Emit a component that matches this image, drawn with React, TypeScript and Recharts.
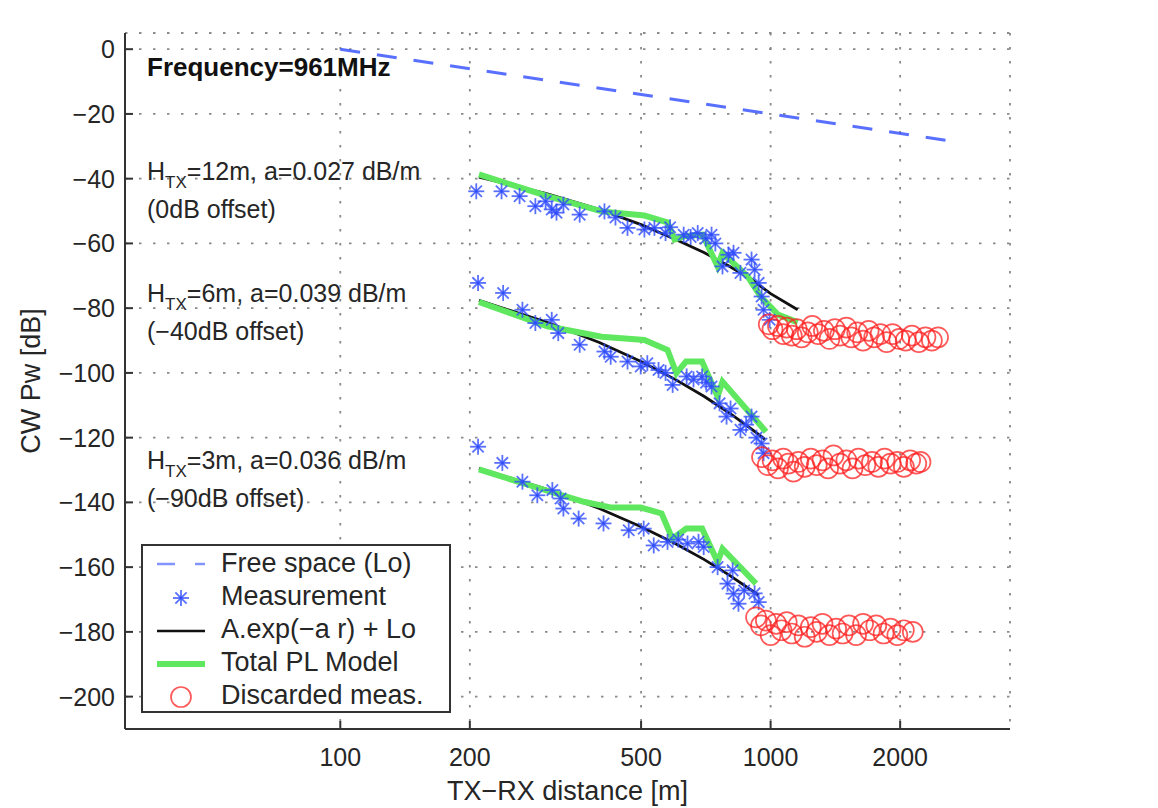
import React from "react";
import { CartesianGrid, ComposedChart, Legend, Line, Scatter, XAxis, YAxis } from "recharts";

type Pair = [number, number];

const xTicks = [100, 200, 500, 1000, 2000];
const yTicks = [-200, -180, -160, -140, -120, -100, -80, -60, -40, -20, 0];

// free space reference (Lo)
const freeSpace: Pair[] = [[100, 0], [2700, -28.6]];

// H_TX = 12 m, 0 dB offset
const meas12: Pair[] = [
  [207, -43.9], [237, -43.9], [261, -45.4], [284, -48.5], [300, -47], [310, -49.5], [318, -50.5],
  [330, -48], [360, -51.1], [411, -50.1], [436, -52], [465, -55.2], [509, -55.7], [537, -55.2],
  [570, -56.8], [584, -55], [628, -57.3], [652, -58], [677, -56.8], [707, -58.5], [729, -57.3],
  [744, -60], [773, -67.1], [798, -63.5], [820, -62.9], [851, -69.1], [903, -65], [918, -68.1],
  [938, -72.2], [953, -76.4], [963, -80.5], [995, -83.6],
];
const fit12: Pair[] = [
  [210, -39.5], [300, -44.5], [400, -49.5], [500, -54.2], [600, -58.7], [700, -62.8],
  [800, -67], [900, -71], [1000, -75.5], [1156, -80.5],
];
const model12: Pair[] = [
  [210, -38.7], [303, -45.4], [405, -50.1], [509, -51.4], [576, -53.5], [598, -58.8], [628, -57.8],
  [695, -57.3], [753, -67.1], [773, -62.9], [884, -70.2], [948, -76.4], [1040, -82], [1156, -84.4],
];
const discard12: Pair[] = [
  [990, -85], [1010, -86.5], [1040, -85.5], [1070, -88], [1090, -86], [1120, -88.5], [1150, -86.5],
  [1180, -89], [1220, -87.5], [1250, -85.5], [1290, -88], [1330, -87], [1370, -89.5], [1410, -86.5],
  [1450, -88.5], [1500, -86], [1540, -89], [1590, -87.5], [1640, -90], [1690, -87], [1740, -89],
  [1800, -88], [1860, -90.5], [1920, -88], [1990, -89.5], [2060, -90], [2130, -88.5], [2210, -90.5],
  [2290, -89], [2370, -90], [2450, -89],
];

// H_TX = 6 m, -40 dB offset
const meas6: Pair[] = [
  [209, -72.2], [239, -75.3], [265, -80.5], [284, -84.6], [310, -83.6], [321, -87.7], [360, -91.3],
  [411, -93.4], [425, -95], [465, -96.5], [499, -98], [517, -97], [549, -99.1], [570, -100],
  [592, -103.7], [638, -101.1], [662, -102], [693, -101.1], [708, -103], [729, -104.2], [761, -109.4],
  [790, -113.5], [807, -111], [851, -117.6], [877, -116], [903, -113.5], [927, -120], [953, -121.8],
  [963, -124.8],
];
const fit6: Pair[] = [
  [210, -77.6], [300, -84.2], [400, -90.6], [500, -96.5], [600, -102], [700, -107.2],
  [800, -112.3], [900, -117.2], [970, -120.5],
];
const model6: Pair[] = [
  [210, -78.1], [303, -85.6], [405, -88.8], [509, -89.8], [576, -92.9], [604, -100.1], [636, -96.5],
  [693, -96.5], [753, -107.3], [773, -102.7], [976, -118.2],
];
const discard6: Pair[] = [
  [955, -126], [985, -128.5], [1010, -127], [1040, -129.5], [1070, -126.5], [1100, -128], [1130, -130.5],
  [1160, -127.5], [1200, -129], [1240, -126.5], [1280, -128.5], [1320, -127], [1360, -129.5], [1400, -125.5],
  [1450, -128], [1500, -127], [1550, -129.5], [1600, -126.5], [1660, -128.5], [1720, -127.5], [1780, -129],
  [1840, -126.5], [1900, -128], [1970, -127.5], [2040, -129], [2110, -127], [2180, -128], [2230, -127.5],
];

// H_TX = 3 m, -90 dB offset
const meas3: Pair[] = [
  [209, -122.8], [238, -127.8], [265, -133.6], [287, -137.8], [311, -136.2], [325, -138.8], [330, -141.9],
  [358, -145], [409, -146.5], [468, -148.6], [507, -148.1], [535, -153.3], [576, -152.2], [610, -151.5],
  [641, -152.7], [680, -152.2], [699, -153.8], [753, -160], [794, -165.1], [816, -161], [820, -168.2],
  [842, -171.3], [868, -167.2], [918, -168.1], [938, -170.8],
];
const fit3: Pair[] = [
  [210, -129.5], [300, -135.8], [400, -141.9], [500, -147.5], [600, -152.7], [700, -157.6],
  [800, -162.4], [937, -168.6],
];
const model3: Pair[] = [
  [210, -129.8], [275, -134.7], [368, -139.8], [427, -141.6], [499, -141.6], [558, -143.4], [591, -151.2],
  [637, -148.1], [693, -148.1], [753, -158.4], [773, -154.3], [925, -165.1],
];
const discard3: Pair[] = [
  [925, -175.5], [950, -178], [975, -176.5], [1000, -181], [1030, -177.5], [1060, -179.5], [1090, -177],
  [1120, -180.5], [1160, -178], [1200, -181.5], [1240, -178.5], [1280, -180], [1320, -177.5], [1370, -181],
  [1420, -179], [1470, -180.5], [1520, -178], [1580, -181], [1640, -177.5], [1700, -179.5], [1760, -178],
  [1830, -180.5], [1900, -179], [1970, -181], [2040, -179.5], [2140, -180],
];

const legendLabels = ["Free space (Lo)", "Measurement", "A.exp(\u2212a r) + Lo", "Total PL Model", "Discarded meas."];

const FONT = "'Liberation Sans', Arial, Helvetica, sans-serif";
const INK = "#262626";
const BLUE = "#2f4cff";
const GREEN = "#5fe85f";
const RED = "#ff2020";

const pts = (a: Pair[]) => a.map(([d, v]) => ({ d, v }));
const minus = (v: number) => (v < 0 ? "\u2212" + Math.abs(v) : String(v));

function Star(props: any) {
  const { cx, cy } = props;
  if (cx == null || cy == null) return null;
  const r = 8;
  const k = r * 0.707;
  return (
    <g stroke={BLUE} strokeWidth={1.8} strokeOpacity={0.8}>
      <line x1={cx - r} y1={cy} x2={cx + r} y2={cy} />
      <line x1={cx} y1={cy - r} x2={cx} y2={cy + r} />
      <line x1={cx - k} y1={cy - k} x2={cx + k} y2={cy + k} />
      <line x1={cx - k} y1={cy + k} x2={cx + k} y2={cy - k} />
    </g>
  );
}

function Ring(props: any) {
  const { cx, cy } = props;
  if (cx == null || cy == null) return null;
  return <circle cx={cx} cy={cy} r={10} fill="none" stroke={RED} strokeWidth={1.7} strokeOpacity={0.75} />;
}

function LegendIcon({ i }: { i: number }) {
  return (
    <svg width={64} height={33} style={{ display: "block" }}>
      {i === 0 && <line x1={0} y1={17} x2={48} y2={17} stroke={BLUE} strokeOpacity={0.6} strokeWidth={2.5} strokeDasharray="18 20" />}
      {i === 1 && <Star cx={24} cy={18} />}
      {i === 2 && <line x1={0} y1={18} x2={48} y2={18} stroke="#111" strokeWidth={2.5} />}
      {i === 3 && <line x1={0} y1={18} x2={48} y2={18} stroke={GREEN} strokeWidth={6} />}
      {i === 4 && <Ring cx={24} cy={18} />}
    </svg>
  );
}

function LegendBox() {
  return (
    <div
      style={{
        boxSizing: "border-box",
        width: 310,
        height: 169,
        border: "2px solid #333",
        background: "#fff",
        padding: "1px 0 0 14px",
        fontFamily: FONT,
        fontSize: 27,
        color: INK,
      }}
    >
      {legendLabels.map((t, i) => (
        <div key={t} style={{ display: "flex", alignItems: "center", height: 33, lineHeight: "33px" }}>
          <LegendIcon i={i} />
          <span>{t}</span>
        </div>
      ))}
    </div>
  );
}

function Note({ top, h, rest, offset }: { top: number; h: string; rest: string; offset: string }) {
  return (
    <div style={{ position: "absolute", left: 147, top, fontFamily: FONT, fontSize: 25, lineHeight: "34px", color: INK, whiteSpace: "nowrap" }}>
      <div>
        H<span style={{ fontSize: 17, position: "relative", top: 8 }}>TX</span>
        {h}
        {rest}
      </div>
      <div>{offset}</div>
    </div>
  );
}

export default function App() {
  const axisStroke = { stroke: "#333", strokeWidth: 2 };
  const tickFont = { fontFamily: FONT, fontSize: 25, fill: INK };
  return (
    <div style={{ position: "absolute", left: 0, top: 0, width: 1158, height: 808, background: "#fff" }}>
      <ComposedChart width={1158} height={808} margin={{ top: 33, right: 148, bottom: 0, left: 0 }}>
        <CartesianGrid stroke="#8a8a8a" strokeWidth={1.8} strokeDasharray="2.5 11.5" />
        <XAxis
          dataKey="d"
          type="number"
          scale="log"
          domain={[31.6, 3600]}
          allowDataOverflow
          ticks={xTicks}
          height={79}
          axisLine={axisStroke}
          tickLine={axisStroke}
          tickSize={-8}
          tickMargin={27}
          tick={tickFont}
          label={{ value: "TX\u2212RX distance [m]", position: "insideBottom", offset: 8, style: { fontFamily: FONT, fontSize: 27, fill: INK } }}
        />
        <XAxis
          xAxisId="t"
          orientation="top"
          dataKey="d"
          type="number"
          scale="log"
          domain={[31.6, 3600]}
          allowDataOverflow
          ticks={xTicks}
          height={0}
          axisLine={axisStroke}
          tickLine={axisStroke}
          tickSize={-8}
          tick={false}
        />
        <YAxis
          type="number"
          domain={[-210, 5]}
          allowDataOverflow
          ticks={yTicks}
          width={125}
          axisLine={axisStroke}
          tickLine={axisStroke}
          tickSize={-8}
          tickMargin={18}
          tick={tickFont}
          tickFormatter={minus}
          label={{ value: "CW Pw [dB]", angle: -90, position: "insideLeft", offset: 30, style: { fontFamily: FONT, fontSize: 27, fill: INK, textAnchor: "middle" } }}
        />
        <YAxis
          yAxisId="r"
          orientation="right"
          type="number"
          domain={[-210, 5]}
          allowDataOverflow
          ticks={yTicks}
          width={0}
          axisLine={axisStroke}
          tickLine={axisStroke}
          tickSize={-8}
          tick={false}
        />

        <Line data={pts(freeSpace)} dataKey="v" stroke={BLUE} strokeOpacity={0.8} strokeWidth={3} strokeDasharray="20 17" dot={false} isAnimationActive={false} />

        <Scatter data={pts(meas12)} dataKey="v" shape={Star} isAnimationActive={false} />
        <Scatter data={pts(meas6)} dataKey="v" shape={Star} isAnimationActive={false} />
        <Scatter data={pts(meas3)} dataKey="v" shape={Star} isAnimationActive={false} />

        <Line data={pts(fit12)} dataKey="v" stroke="#111" strokeWidth={2.8} dot={false} isAnimationActive={false} />
        <Line data={pts(fit6)} dataKey="v" stroke="#111" strokeWidth={2.8} dot={false} isAnimationActive={false} />
        <Line data={pts(fit3)} dataKey="v" stroke="#111" strokeWidth={2.8} dot={false} isAnimationActive={false} />

        <Line data={pts(model12)} dataKey="v" stroke={GREEN} strokeWidth={6} dot={false} isAnimationActive={false} />
        <Line data={pts(model6)} dataKey="v" stroke={GREEN} strokeWidth={6} dot={false} isAnimationActive={false} />
        <Line data={pts(model3)} dataKey="v" stroke={GREEN} strokeWidth={6} dot={false} isAnimationActive={false} />

        <Scatter data={pts(discard12)} dataKey="v" shape={Ring} isAnimationActive={false} />
        <Scatter data={pts(discard6)} dataKey="v" shape={Ring} isAnimationActive={false} />
        <Scatter data={pts(discard3)} dataKey="v" shape={Ring} isAnimationActive={false} />

        <Legend
          layout="horizontal"
          verticalAlign="middle"
          align="center"
          content={() => <LegendBox />}
          wrapperStyle={{ left: 141, top: 544, width: 310, height: 169 }}
        />
      </ComposedChart>

      <div style={{ position: "absolute", left: 147, top: 50, fontFamily: FONT, fontSize: 26, fontWeight: "bold", lineHeight: "34px", color: "#111" }}>
        Frequency=961MHz
      </div>
      <Note top={154} h="=12m, " rest="a=0.027 dB/m" offset="(0dB offset)" />
      <Note top={276} h="=6m, " rest="a=0.039 dB/m" offset={"(\u221240dB offset)"} />
      <Note top={443} h="=3m, " rest="a=0.036 dB/m" offset={"(\u221290dB offset)"} />
    </div>
  );
}
